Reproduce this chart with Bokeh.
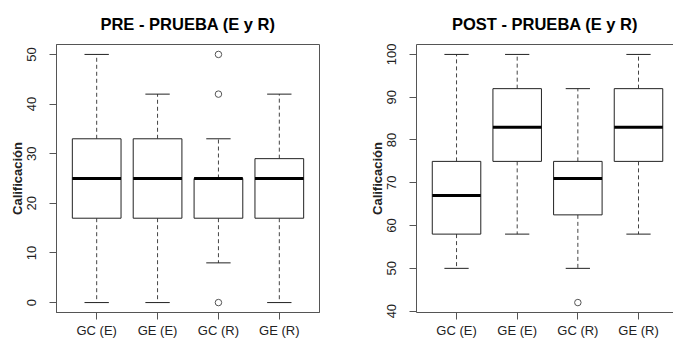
from bokeh.plotting import figure
from bokeh.models import Range1d, FixedTicker, LinearAxis, ColumnDataSource
from bokeh.layouts import row
from bokeh.embed import file_html
from bokeh.resources import INLINE

categories = ["GC (E)", "GE (E)", "GC (R)", "GE (R)"]

pre_low = [0, 0, 8, 0]
pre_q1 = [17, 17, 17, 17]
pre_median = [25, 25, 25, 25]
pre_q3 = [33, 33, 25, 29]
pre_high = [50, 42, 33, 42]
pre_out_cat = ["GC (R)", "GC (R)", "GC (R)"]
pre_out_val = [50, 42, 0]
pre_yticks = [0, 10, 20, 30, 40, 50]

post_low = [50, 58, 50, 58]
post_q1 = [58, 75, 62.5, 75]
post_median = [67, 83, 71, 83]
post_q3 = [75, 92, 75, 92]
post_high = [100, 100, 92, 100]
post_out_cat = ["GC (R)"]
post_out_val = [42]
post_yticks = [40, 50, 60, 70, 80, 90, 100]

FONT = "Liberation Sans"
FRAME = "#555555"
BOXC = "#222222"


def make_fig(title, low, q1, med, q3, high, out_cat, out_val, yticks,
             y_start, y_end, width, border_left, border_right, x_end, outline):
    p = figure(width=width, height=341,
               x_range=Range1d(0.34, x_end), y_range=Range1d(y_start, y_end),
               output_backend="svg", toolbar_location=None, tools="",
               min_border_left=border_left, min_border_right=border_right,
               min_border_top=43, min_border_bottom=29)
    p.background_fill_color = "white"
    p.border_fill_color = "white"
    p.grid.visible = False
    p.outline_line_color = FRAME if outline else None

    xs = [i + 1 for i in range(len(categories))]
    src = ColumnDataSource(dict(
        x=xs,
        l=[x - 0.4 for x in xs], r=[x + 0.4 for x in xs],
        cl=[x - 0.2 for x in xs], cr=[x + 0.2 for x in xs],
        low=low, q1=q1, med=med, q3=q3, high=high))

    p.segment(x0="x", y0="q3", x1="x", y1="high", source=src,
              line_color="#444444", line_width=1, line_dash="4 3")
    p.segment(x0="x", y0="q1", x1="x", y1="low", source=src,
              line_color="#444444", line_width=1, line_dash="4 3")
    p.segment(x0="cl", y0="high", x1="cr", y1="high", source=src,
              line_color=BOXC, line_width=1)
    p.segment(x0="cl", y0="low", x1="cr", y1="low", source=src,
              line_color=BOXC, line_width=1)
    p.quad(left="l", right="r", bottom="q1", top="q3", source=src,
           fill_color="white", line_color=BOXC, line_width=1)
    p.segment(x0="l", y0="med", x1="r", y1="med", source=src,
              line_color="black", line_width=3)

    ox = [categories.index(c) + 1 for c in out_cat]
    p.scatter(ox, out_val, marker="circle", size=6.5, fill_color=None,
              line_color="#555555", line_width=1)

    p.title.text = title
    p.title.text_font = FONT
    p.title.text_font_size = "16.5px"
    p.title.text_font_style = "bold"
    p.title.text_color = "black"
    p.title.align = "center"
    p.title.standoff = 24

    xa = p.xaxis[0]
    xa.ticker = FixedTicker(ticks=xs)
    xa.major_label_overrides = {x: c for x, c in zip(xs, categories)}
    ya = p.yaxis[0]
    ya.ticker = FixedTicker(ticks=yticks)
    ya.major_label_orientation = "vertical"
    ya.axis_label = "Calificación"
    ya.axis_label_text_font = FONT
    ya.axis_label_text_font_size = "13px"
    ya.axis_label_text_font_style = "bold"
    ya.axis_label_text_color = "#222222"
    ya.axis_label_standoff = 0
    for ax in (xa, ya):
        ax.axis_line_color = FRAME
        ax.major_tick_line_color = FRAME
        ax.major_tick_out = 7
        ax.major_tick_in = 0
        ax.minor_tick_out = 0
        ax.minor_tick_in = 0
        ax.major_label_text_font = FONT
        ax.major_label_text_font_size = "13px"
        ax.major_label_text_color = "#222222"
    xa.major_label_standoff = 3
    ya.major_label_standoff = 13

    if not outline:
        top = LinearAxis(ticker=FixedTicker(ticks=[]), axis_line_color=FRAME,
                         major_tick_out=0, minor_tick_out=0,
                         major_tick_in=0, minor_tick_in=0)
        p.add_layout(top, "above")
    return p


p1 = make_fig("PRE - PRUEBA (E y R)", pre_low, pre_q1, pre_median, pre_q3,
              pre_high, pre_out_cat, pre_out_val, pre_yticks,
              -2, 52, 340, 56, 21, 4.66, True)
p2 = make_fig("POST - PRUEBA (E y R)", post_low, post_q1, post_median, post_q3,
              post_high, post_out_cat, post_out_val, post_yticks,
              39.68, 102.32, 333, 76, 0, 4.577, False)

layout = row(p1, p2)
open("out.html", "w").write(file_html(layout, INLINE))
